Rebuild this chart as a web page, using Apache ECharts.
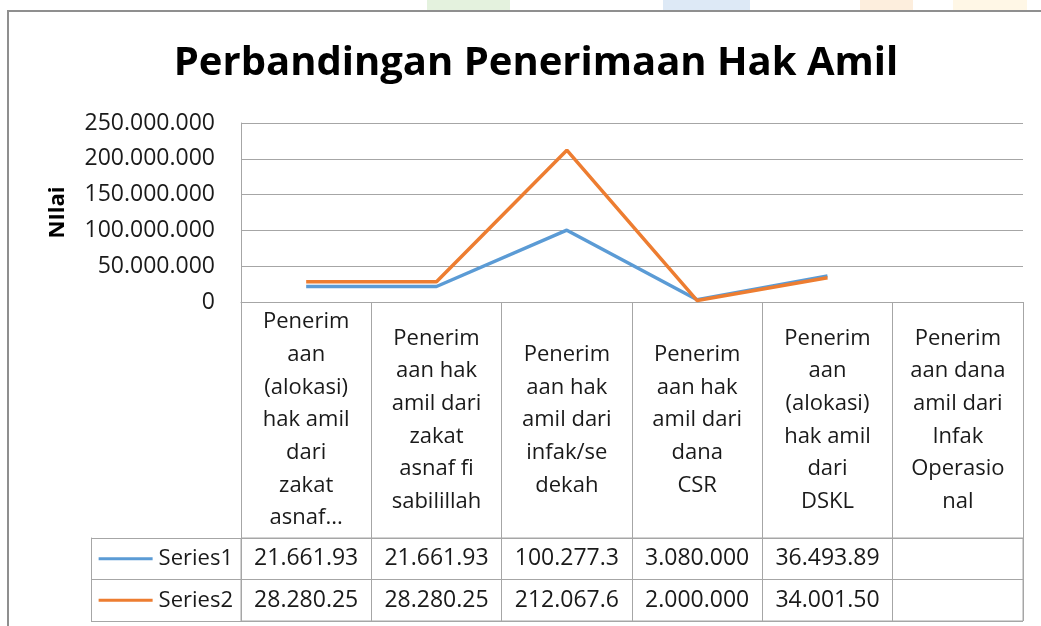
<!DOCTYPE html>
<html><head><meta charset="utf-8">
<script src="https://cdn.jsdelivr.net/npm/echarts@6/dist/echarts.min.js"></script>
<style>
html,body{margin:0;padding:0;background:#fff;}
#wrap{position:relative;width:1041px;height:626px;overflow:hidden;background:#fff;}
.strip{position:absolute;top:0;height:11px;}
#frame{position:absolute;left:7px;top:10px;width:1100px;height:700px;border-left:2px solid #8f8f8f;border-top:2px solid #8f8f8f;box-sizing:border-box;}
#main{position:absolute;left:0;top:0;width:1041px;height:626px;}
</style></head><body>
<div id="wrap">
<div class="strip" style="left:427px;width:83px;background:#e4f2de"></div>
<div class="strip" style="left:663px;width:87px;background:#dde9f6"></div>
<div class="strip" style="left:860px;width:53px;background:#fdeedd"></div>
<div class="strip" style="left:953px;width:74px;background:#fff7e6"></div>
<div id="frame"></div>
<div id="main"></div>
</div>
<script>
// ---- data ----
const categories = [
  'Penerim\naan\n(alokasi)\nhak amil\ndari\nzakat\nasnaf...',
  'Penerim\naan hak\namil dari\nzakat\nasnaf fi\nsabilillah',
  'Penerim\naan hak\namil dari\ninfak/se\ndekah',
  'Penerim\naan hak\namil dari\ndana\nCSR',
  'Penerim\naan\n(alokasi)\nhak amil\ndari\nDSKL',
  'Penerim\naan dana\namil dari\nInfak\nOperasio\nnal'
];
const seriesNames = ['Series1', 'Series2'];
const series1 = [21661930, 21661930, 100277300, 3080000, 36493890, null];
const series2 = [28280250, 28280250, 212067600, 2000000, 34001500, null];
const yMin = 0, yMax = 250000000, yInterval = 50000000;

// ---- helpers ----
const FONT = 'Open Sans';
const TXT = '#1a1a1a';
const LINE = '#a6a6a6';
const COLORS = ['#5b9bd5', '#ed7d31'];
const fmt = v => String(Math.round(v)).replace(/\B(?=(\d{3})+(?!\d))/g, '.');
const cellText = v => (v == null ? '' : fmt(v).slice(0, 9));
const allSeries = [series1, series2];

const chart = echarts.init(document.getElementById('main'), null, {renderer: 'canvas'});
const option = {
  animation: false,
  backgroundColor: 'transparent',
  title: {
    text: 'Perbandingan Penerimaan Hak Amil',
    left: 531, top: 39, textAlign: 'center',
    textStyle: {fontFamily: FONT, fontWeight: 'bold', fontSize: 40, color: '#000'}
  },
  grid: [
    {left: 241, top: 123, width: 782, height: 179},
    {left: 241, top: 538, width: 782, height: 83, show: true, borderColor: LINE, borderWidth: 1, backgroundColor: 'transparent'}
  ],
  xAxis: [
    {
      gridIndex: 0, type: 'category', data: categories, boundaryGap: true,
      axisLine: {show: true, lineStyle: {color: LINE, width: 1}},
      axisTick: {show: true, length: 236, lineStyle: {color: LINE, width: 1}},
      axisLabel: {interval: 0, margin: 118, verticalAlign: 'middle', lineHeight: 32.7,
        fontFamily: FONT, fontSize: 22, color: TXT},
      splitLine: {show: false}
    },
    {
      gridIndex: 1, type: 'category', data: categories, boundaryGap: true,
      axisLine: {show: false}, axisTick: {show: false}, axisLabel: {show: false},
      splitLine: {show: true, lineStyle: {color: LINE, width: 1}}
    }
  ],
  yAxis: [
    {
      gridIndex: 0, type: 'value', min: yMin, max: yMax, interval: yInterval,
      axisLine: {show: true, lineStyle: {color: LINE, width: 1}},
      axisTick: {show: false},
      splitLine: {show: true, lineStyle: {color: LINE, width: 1}},
      axisLabel: {formatter: v => fmt(v), margin: 26, fontFamily: FONT, fontSize: 23, color: TXT},
      name: 'NIlai', nameLocation: 'middle', nameGap: 172, nameRotate: 90,
      nameTextStyle: {fontFamily: FONT, fontWeight: 'bold', fontSize: 22, color: '#000'}
    },
    {
      gridIndex: 1, type: 'category', data: seriesNames, inverse: true, boundaryGap: true,
      axisLine: {show: true, lineStyle: {color: LINE, width: 1}},
      axisTick: {show: true, length: 150, lineStyle: {color: LINE, width: 1}},
      splitLine: {show: true, lineStyle: {color: LINE, width: 1}},
      axisLabel: {
        margin: 8,
        formatter: (v, i) => '{l' + i + '|}{t|' + v + '}',
        rich: {
          l0: {backgroundColor: COLORS[0], width: 54, height: 3, verticalAlign: 'middle'},
          l1: {backgroundColor: COLORS[1], width: 54, height: 3, verticalAlign: 'middle'},
          t: {fontFamily: FONT, fontSize: 22, color: TXT, padding: [0, 0, 0, 6], verticalAlign: 'middle'}
        }
      }
    },
    {
      gridIndex: 1, type: 'category', data: seriesNames, inverse: true, position: 'left', offset: 150,
      axisLine: {show: true, lineStyle: {color: LINE, width: 1}},
      axisTick: {show: false}, axisLabel: {show: false}, splitLine: {show: false}
    }
  ],
  series: [
    ...allSeries.map((vals, k) => ({
      name: seriesNames[k], type: 'line', xAxisIndex: 0, yAxisIndex: 0,
      data: vals, symbol: 'none', color: COLORS[k],
      lineStyle: {width: 3.5, color: COLORS[k]}, z: 3 + k
    })),
    ...allSeries.map((vals, k) => ({
      name: seriesNames[k] + ' table', type: 'scatter', xAxisIndex: 1, yAxisIndex: 1,
      data: vals.map((v, i) => [i, k, v]),
      symbol: 'rect', symbolSize: 0, itemStyle: {color: 'transparent', opacity: 1},
      label: {show: true, position: 'inside', opacity: 1, formatter: p => cellText(p.value[2]),
        fontFamily: FONT, fontSize: 23, color: TXT, textBorderWidth: 0},
      silent: true
    }))
  ]
};
chart.setOption(option);
</script>
</body></html>
